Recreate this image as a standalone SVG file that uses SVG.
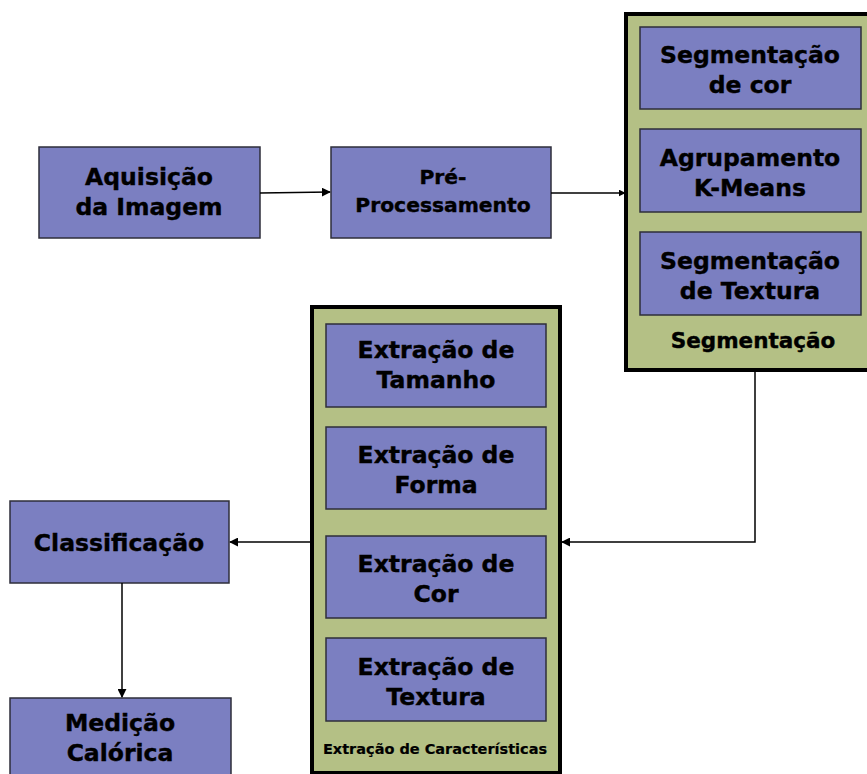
<svg xmlns="http://www.w3.org/2000/svg" width="867" height="774" viewBox="0 0 867 774">
<style>
.box{fill:#7b7fc1;stroke:#2e2e3a;stroke-width:1.5}
.grp{fill:#b4c085;stroke:#000;stroke-width:4}
.t{font-family:"DejaVu Sans",sans-serif;font-weight:bold;font-size:23.5px;fill:#000;stroke:#000;stroke-width:0.4;text-anchor:middle}
.s{font-size:20.3px}
.lbl{font-size:21.5px}
.sm{font-size:14.5px;stroke-width:0.2}
.c{fill:none;stroke:#000;stroke-width:1.5}
</style>
<defs>
<marker id="ah" viewBox="0 0 10 10" refX="9" refY="5" markerWidth="7" markerHeight="7" markerUnits="userSpaceOnUse" orient="auto">
<path d="M0,0 L10,5 L0,10 z" fill="#000"/>
</marker>
<marker id="ahl" viewBox="0 0 10 10" refX="9" refY="5" markerWidth="9" markerHeight="9" markerUnits="userSpaceOnUse" orient="auto">
<path d="M0,0 L10,5 L0,10 z" fill="#000"/>
</marker>
</defs>
<rect width="867" height="774" fill="#fff"/>
<g id="segmentacao">
<rect class="grp" x="626" y="14" width="245" height="356"/>
<text class="t lbl" x="753" y="348">Segmentação</text>
</g>
<g id="extracao-caracteristicas">
<rect class="grp" x="312" y="307" width="248" height="466"/>
<text class="t sm" x="435" y="754">Extração de Características</text>
</g>
<g id="aquisicao">
<rect class="box" x="39" y="147" width="221" height="91"/>
<text class="t" x="149" y="185">Aquisição</text>
<text class="t" x="149" y="215">da Imagem</text>
</g>
<g id="pre-processamento">
<rect class="box" x="331" y="147" width="220" height="91"/>
<text class="t s" x="443" y="184">Pré-</text>
<text class="t s" x="443" y="212">Processamento</text>
</g>
<g id="seg-cor">
<rect class="box" x="640" y="27" width="221" height="82"/>
<text class="t" x="750" y="63">Segmentação</text>
<text class="t" x="750" y="93">de cor</text>
</g>
<g id="kmeans">
<rect class="box" x="640" y="129" width="221" height="83"/>
<text class="t" x="750" y="166">Agrupamento</text>
<text class="t" x="750" y="196">K-Means</text>
</g>
<g id="seg-textura">
<rect class="box" x="640" y="232" width="221" height="83"/>
<text class="t" x="750" y="269">Segmentação</text>
<text class="t" x="750" y="299">de Textura</text>
</g>
<g id="ext-tamanho">
<rect class="box" x="326" y="324" width="220" height="83"/>
<text class="t" x="436" y="358">Extração de</text>
<text class="t" x="436" y="388">Tamanho</text>
</g>
<g id="ext-forma">
<rect class="box" x="326" y="427" width="220" height="82"/>
<text class="t" x="436" y="463">Extração de</text>
<text class="t" x="436" y="493">Forma</text>
</g>
<g id="ext-cor">
<rect class="box" x="326" y="536" width="220" height="82"/>
<text class="t" x="436" y="572">Extração de</text>
<text class="t" x="436" y="602">Cor</text>
</g>
<g id="ext-textura">
<rect class="box" x="326" y="638" width="220" height="83"/>
<text class="t" x="436" y="675">Extração de</text>
<text class="t" x="436" y="705">Textura</text>
</g>
<g id="classificacao">
<rect class="box" x="10" y="501" width="219" height="82"/>
<text class="t" x="119" y="551">Classificação</text>
</g>
<g id="medicao">
<rect class="box" x="10" y="698" width="221" height="82"/>
<text class="t" x="120" y="731">Medição</text>
<text class="t" x="120" y="761">Calórica</text>
</g>
<g id="connectors">
<path class="c" d="M260,193 L330,192" marker-end="url(#ahl)"/>
<path class="c" d="M551,193 L625,193" marker-end="url(#ah)"/>
<path class="c" d="M755,372 L755,542 L562,542" marker-end="url(#ahl)"/>
<path class="c" d="M310,542 L230,542" marker-end="url(#ahl)"/>
<path class="c" d="M122,583 L122,697" marker-end="url(#ahl)"/>
</g>
</svg>
